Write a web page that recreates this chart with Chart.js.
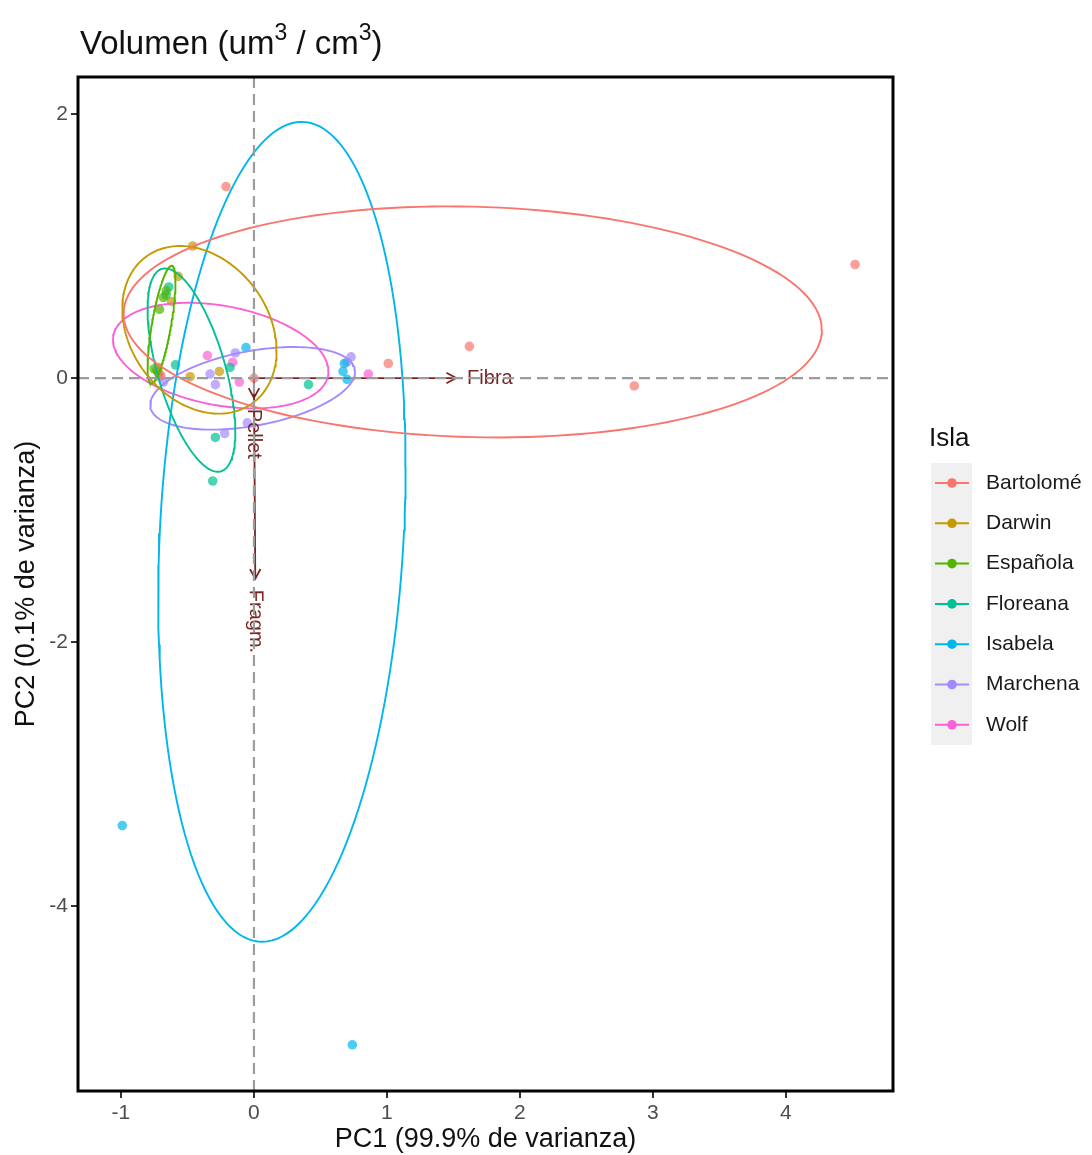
<!DOCTYPE html>
<html lang="es">
<head>
  <meta charset="UTF-8" />
  <title>Volumen (um³/cm³) – PCA por isla</title>
  <script src="https://cdn.jsdelivr.net/npm/chart.js"></script>
  <style>
    html, body { margin: 0; padding: 0; background: #fff; }
    #wrap { position: relative; width: 1092px; height: 1155px; }
  </style>
</head>
<body>
<div id="wrap"><canvas id="pca"></canvas></div>
<script>
  const FONT = "'Liberation Sans', Arial, Helvetica, sans-serif";

  const islas = ["Bartolomé", "Darwin", "Española", "Floreana", "Isabela", "Marchena", "Wolf"];
  const colores = ["#F8766D", "#C49A00", "#53B400", "#00C094", "#00B6EB", "#A58AFF", "#FB61D7"];

  // scores (PC1, PC2) por isla
  const bartolome = [[4.52, 0.86], [1.62, 0.24], [2.86, -0.06], [1.01, 0.11], [-0.21, 1.45], [0.0, 0.0], [-0.70, 0.02]];
  const darwin    = [[-0.46, 1.0], [-0.57, 0.77], [-0.62, 0.58], [-0.48, 0.01], [-0.26, 0.05], [-0.72, 0.08]];
  const espanola  = [[-0.71, 0.52], [-0.68, 0.61], [-0.66, 0.66], [-0.75, 0.07], [-0.72, 0.04]];
  const floreana  = [[-0.64, 0.69], [-0.66, 0.63], [-0.59, 0.10], [-0.29, -0.45], [-0.31, -0.78], [0.41, -0.05], [-0.18, 0.08], [-0.73, 0.06]];
  const isabela   = [[-0.99, -3.39], [0.74, -5.05], [-0.06, 0.23], [0.68, 0.11], [0.67, 0.05], [0.70, -0.01]];
  const marchena  = [[0.73, 0.16], [0.70, 0.12], [-0.33, 0.03], [-0.29, -0.05], [-0.22, -0.42], [-0.05, -0.34], [-0.14, 0.19], [-0.68, -0.03]];
  const wolf      = [[-0.35, 0.17], [-0.16, 0.12], [-0.11, -0.03], [0.86, 0.03], [-0.71, 0.01]];
  const puntos = [bartolome, darwin, espanola, floreana, isabela, marchena, wolf];

  // elipses normales por isla: centro, desviación en x/y y correlación
  const elipseCx  = [1.645, -0.41, -0.695, -0.47, 0.21, -0.01, -0.25];
  const elipseCy  = [0.425, 0.365, 0.405, 0.06, -1.165, -0.078, 0.17];
  const elipseSx  = [2.625, 0.58, 0.105, 0.33, 0.93, 0.77, 0.81];
  const elipseSy  = [0.875, 0.635, 0.445, 0.77, 3.105, 0.313, 0.40];
  const elipseRho = [-0.07, -0.25, 0.72, -0.6, 0.16, 0.4, -0.3];

  // cargas de las variables (flechas)
  const variables = ["Fibra", "Pellet", "Fragm."];
  const varX = [1.52, 0.0, 0.01];
  const varY = [0.0, -0.15, -1.52];

  const xTicks = [-1, 0, 1, 2, 3, 4];
  const yTicks = [-4, -2, 0, 2];

  function rgba(hex, a) {
    const n = parseInt(hex.slice(1), 16);
    return `rgba(${(n >> 16) & 255},${(n >> 8) & 255},${n & 255},${a})`;
  }

  function elipse(i) {
    const out = [];
    const r = elipseRho[i], k = Math.sqrt(1 - r * r);
    for (let j = 0; j <= 160; j++) {
      const t = 2 * Math.PI * j / 160;
      out.push({
        x: elipseCx[i] + elipseSx[i] * Math.cos(t),
        y: elipseCy[i] + elipseSy[i] * (r * Math.cos(t) + k * Math.sin(t))
      });
    }
    return out;
  }

  const datasets = [];
  islas.forEach((isla, i) => {
    datasets.push({
      label: isla,
      data: puntos[i].map(p => ({ x: p[0], y: p[1] })),
      backgroundColor: rgba(colores[i], 0.7),
      pointRadius: 4.8,
      pointBorderWidth: 0,
      order: 2
    });
    datasets.push({
      label: isla + " elipse",
      data: elipse(i),
      showLine: true,
      borderColor: colores[i],
      borderWidth: 1.9,
      pointRadius: 0,
      tension: 0,
      fill: false,
      order: 1
    });
  });

  const DARKRED = "#7b2424";

  // texto con superíndices: [texto, esSuperíndice]
  function drawRich(ctx, parts, x, y, size) {
    parts.forEach(([txt, sup]) => {
      ctx.font = `${sup ? Math.round(size * 0.7) : size}px ${FONT}`;
      ctx.fillText(txt, x, sup ? y - size * 0.42 : y);
      x += ctx.measureText(txt).width;
    });
  }

  const arrows = {
    id: "arrows",
    beforeDatasetsDraw(chart) {
      const { ctx, scales: { x, y }, chartArea: a } = chart;
      ctx.save();
      ctx.beginPath(); ctx.rect(a.left, a.top, a.width, a.height); ctx.clip();
      ctx.strokeStyle = DARKRED; ctx.lineWidth = 1.8;
      const x0 = x.getPixelForValue(0), y0 = y.getPixelForValue(0);
      variables.forEach((v, i) => {
        const x1 = x.getPixelForValue(varX[i]), y1 = y.getPixelForValue(varY[i]);
        const ang = Math.atan2(y1 - y0, x1 - x0);
        ctx.beginPath(); ctx.moveTo(x0, y0); ctx.lineTo(x1, y1); ctx.stroke();
        ctx.beginPath();
        ctx.moveTo(x1 - 11 * Math.cos(ang - 0.5), y1 - 11 * Math.sin(ang - 0.5));
        ctx.lineTo(x1, y1);
        ctx.lineTo(x1 - 11 * Math.cos(ang + 0.5), y1 - 11 * Math.sin(ang + 0.5));
        ctx.stroke();
      });
      ctx.restore();
    },
    afterDatasetsDraw(chart) {
      const { ctx, scales: { x, y }, chartArea: a } = chart;
      const x0 = x.getPixelForValue(0), y0 = y.getPixelForValue(0);
      ctx.save();
      // nombres de las variables
      ctx.fillStyle = DARKRED;
      ctx.font = `20px ${FONT}`;
      ctx.textAlign = "left"; ctx.textBaseline = "middle";
      variables.forEach((v, i) => {
        const x1 = x.getPixelForValue(varX[i]), y1 = y.getPixelForValue(varY[i]);
        const ang = Math.atan2(y1 - y0, x1 - x0);
        ctx.save();
        ctx.translate(x1 + 11 * Math.cos(ang), y1 + 11 * Math.sin(ang));
        ctx.rotate(ang);
        ctx.fillText(v, 0, 0);
        ctx.restore();
      });
      // líneas de referencia en 0
      ctx.strokeStyle = "#9c9c9c"; ctx.lineWidth = 2.2; ctx.setLineDash([11, 6]);
      ctx.beginPath(); ctx.moveTo(x0, a.top); ctx.lineTo(x0, a.bottom); ctx.stroke();
      ctx.beginPath(); ctx.moveTo(a.left, y0); ctx.lineTo(a.right, y0); ctx.stroke();
      ctx.setLineDash([]);
      // marco del panel
      ctx.strokeStyle = "#000"; ctx.lineWidth = 3;
      ctx.strokeRect(a.left, a.top, a.width, a.height);
      ctx.restore();
    },
    afterDraw(chart) {
      const { ctx, chartArea: a } = chart;
      ctx.save();
      ctx.fillStyle = "#111";
      // título
      ctx.textAlign = "left"; ctx.textBaseline = "alphabetic";
      drawRich(ctx, [["Volumen (um", false], ["3", true], [" / ", false], ["cm", false], ["3", true], [")", false]], 80, 54, 33);
      // títulos de ejes
      ctx.font = `27px ${FONT}`;
      ctx.textAlign = "center"; ctx.textBaseline = "middle";
      ctx.fillText("PC1 (99.9% de varianza)", (a.left + a.right) / 2, 1140);
      ctx.save();
      ctx.translate(27, (a.top + a.bottom) / 2);
      ctx.rotate(-Math.PI / 2);
      ctx.fillText("PC2 (0.1% de varianza)", 0, 0);
      ctx.restore();
      // leyenda
      ctx.textAlign = "left";
      ctx.font = `26px ${FONT}`;
      ctx.fillText("Isla", 929, 439);
      ctx.fillStyle = "#F0F0F0";
      ctx.fillRect(931, 463, 41, 282);
      ctx.font = `21px ${FONT}`;
      islas.forEach((isla, i) => {
        const yy = 483 + i * 40.3;
        ctx.strokeStyle = colores[i]; ctx.lineWidth = 2;
        ctx.beginPath(); ctx.moveTo(935, yy); ctx.lineTo(969, yy); ctx.stroke();
        ctx.fillStyle = colores[i];
        ctx.beginPath(); ctx.arc(952, yy, 4.8, 0, 2 * Math.PI); ctx.fill();
        ctx.fillStyle = "#1a1a1a";
        ctx.fillText(isla, 986, yy);
      });
      ctx.restore();
    }
  };

  new Chart(document.getElementById("pca"), {
    type: "scatter",
    data: { datasets },
    options: {
      responsive: true,
      maintainAspectRatio: false,
      animation: false,
      layout: { padding: { top: 77, right: 199, bottom: 0, left: 0 } },
      plugins: { legend: { display: false }, tooltip: { enabled: false }, title: { display: false } },
      scales: {
        x: {
          type: "linear", min: -1.323, max: 4.805,
          afterFit: s => { s.height = 64; },
          afterBuildTicks: s => { s.ticks = xTicks.map(v => ({ value: v })); },
          grid: { display: true, drawOnChartArea: false, drawTicks: true, tickLength: 7, color: "#333", lineWidth: 2 },
          border: { display: false },
          ticks: { color: "#4d4d4d", font: { family: FONT, size: 21 }, padding: 3, maxRotation: 0, callback: v => String(v) }
        },
        y: {
          type: "linear", min: -5.40, max: 2.28,
          afterFit: s => { s.width = 78; },
          afterBuildTicks: s => { s.ticks = yTicks.map(v => ({ value: v })); },
          grid: { display: true, drawOnChartArea: false, drawTicks: true, tickLength: 7, color: "#333", lineWidth: 2 },
          border: { display: false },
          ticks: { color: "#4d4d4d", font: { family: FONT, size: 21 }, padding: 3, callback: v => String(v) }
        }
      }
    },
    plugins: [arrows]
  });
</script>
</body>
</html>
